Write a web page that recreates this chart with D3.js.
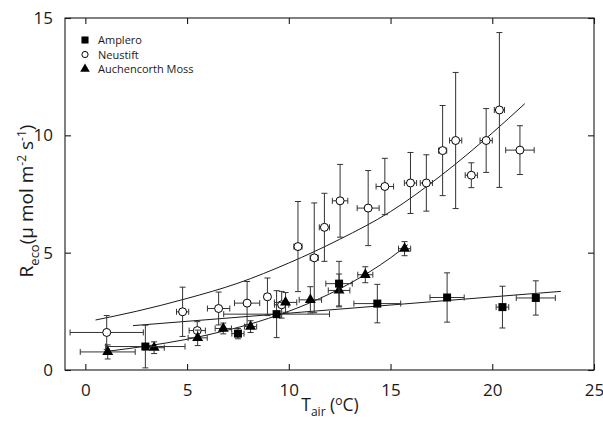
<!DOCTYPE html>
<html>
<head>
<meta charset="utf-8">
<script src="https://cdn.jsdelivr.net/npm/d3@7"></script>
<style>
  html, body { margin: 0; padding: 0; background: #fff; }
  svg { display: block; }
  text { font-family: "Open Sans", "DejaVu Sans", sans-serif; fill: #1a1a1a; }
</style>
</head>
<body>
<svg id="chart" width="603" height="421"></svg>
<script>
// ---------- data ----------
const xTicks = [0, 5, 10, 15, 20, 25];
const yTicks = [0, 5, 10, 15];
const seriesNames = ["Amplero", "Neustift", "Auchencorth Moss"];

// Amplero (filled squares)
const amplX    = [2.95, 7.5, 9.4, 12.47, 14.35, 17.78, 20.5, 22.14];
const amplY    = [1.0, 1.55, 2.38, 3.68, 2.83, 3.09, 2.68, 3.07];
const amplXErr = [1.95, 0.3, 2.6, 0.65, 1.15, 0.84, 0.31, 0.96];
const amplYErr = [0.91, 0.22, 1.0, 0.95, 0.82, 1.05, 0.89, 0.73];

// Neustift (open circles)
const neuX    = [1.05, 4.78, 5.5, 6.55, 7.95, 8.95, 9.65, 10.45, 11.25, 11.75, 12.52, 13.9, 14.72, 15.98, 16.76, 17.56, 18.2, 18.97, 19.7, 20.35, 21.36];
const neuY    = [1.6, 2.48, 1.68, 2.62, 2.85, 3.12, 2.78, 5.26, 4.78, 6.08, 7.21, 6.9, 7.82, 7.97, 7.97, 9.35, 9.78, 8.3, 9.78, 11.08, 9.37];
const neuXErr = [1.8, 0.3, 0.4, 0.55, 0.62, 0.15, 0.35, 0.2, 0.2, 0.25, 0.38, 0.54, 0.43, 0.3, 0.3, 0.2, 0.3, 0.3, 0.3, 0.25, 0.7];
const neuYErr = [0.72, 1.05, 0.38, 0.7, 0.92, 0.8, 0.57, 1.92, 2.34, 1.45, 1.55, 1.6, 1.2, 1.3, 1.2, 1.92, 2.9, 0.53, 1.36, 3.3, 1.04];

// Auchencorth Moss (filled triangles)
const aucX    = [1.1, 3.38, 5.52, 6.78, 8.12, 9.84, 11.06, 12.47, 13.76, 15.69];
const aucY    = [0.77, 0.95, 1.37, 1.77, 1.85, 2.88, 2.99, 3.39, 4.06, 5.17];
const aucXErr = [1.35, 0.5, 0.47, 0.4, 0.3, 0.55, 0.55, 0.53, 0.37, 0.3];
const aucYErr = [0.3, 0.25, 0.33, 0.23, 0.25, 0.42, 0.56, 0.7, 0.34, 0.3];

// fitted curves
const amplFitX = [2.34, 23.37];
const amplFitY = [1.89, 3.35];
const neuFitX  = [0.5, 2.5, 5, 7.5, 10, 12.5, 15, 17.5, 20, 21.6];
const neuFitY  = [2.13, 2.5, 3.05, 3.7, 4.56, 5.57, 6.75, 8.3, 10.1, 11.35];
const aucFitX  = [1.2, 3, 5, 7, 9, 11, 13, 15, 15.85];
const aucFitY  = [0.81, 1.02, 1.31, 1.7, 2.2, 2.85, 3.69, 4.78, 5.34];

// ---------- layout ----------
const svg = d3.select("#chart");
const L = 65, R = 594, T = 18, B = 370;
const x = d3.scaleLinear().domain([-1, 25]).range([L, R]);
const y = d3.scaleLinear().domain([0, 15]).range([B, T]);
const ink = "#1a1a1a";
const errInk = "#333";

// frame
svg.append("rect").attr("x", L).attr("y", T).attr("width", R - L).attr("height", B - T)
  .attr("fill", "none").attr("stroke", ink).attr("stroke-width", 1.1);

// axes with inward ticks
const tl = 6;
const gxB = svg.append("g").attr("transform", `translate(0,${B})`)
  .call(d3.axisBottom(x).tickValues(xTicks).tickSizeInner(-tl).tickSizeOuter(0).tickPadding(tl + 8));
const gxT = svg.append("g").attr("transform", `translate(0,${T})`)
  .call(d3.axisTop(x).tickValues(xTicks).tickSizeInner(-tl).tickSizeOuter(0).tickFormat(""));
const gyL = svg.append("g").attr("transform", `translate(${L},0)`)
  .call(d3.axisLeft(y).tickValues(yTicks).tickSizeInner(-tl).tickSizeOuter(0).tickPadding(tl + 6));
const gyR = svg.append("g").attr("transform", `translate(${R},0)`)
  .call(d3.axisRight(y).tickValues(yTicks).tickSizeInner(-tl).tickSizeOuter(0).tickFormat(""));
[gxB, gxT, gyL, gyR].forEach(g => {
  g.select(".domain").remove();
  g.selectAll(".tick line").attr("stroke", ink).attr("stroke-width", 1.1);
  g.selectAll(".tick text").style("font-size", "17px").attr("fill", ink)
    .style("font-family", '"Open Sans", sans-serif');
});

// axis titles
const xt = svg.append("text").attr("x", 330).attr("y", 411).attr("text-anchor", "middle")
  .style("font-size", "17.5px");
xt.append("tspan").text("T");
xt.append("tspan").attr("dy", 5).style("font-size", "12px").text("air");
xt.append("tspan").attr("dy", -5).text(" (");
xt.append("tspan").attr("dy", -6).style("font-size", "12px").text("o");
xt.append("tspan").attr("dy", 6).text("C)");

const yt = svg.append("text").attr("transform", "translate(33,201) rotate(-90)")
  .attr("text-anchor", "middle").style("font-size", "19px");
yt.append("tspan").text("R");
yt.append("tspan").attr("dy", 6).style("font-size", "13px").text("eco");
yt.append("tspan").attr("dy", -6).text("(µ mol m");
yt.append("tspan").attr("dy", -7).style("font-size", "12px").text("-2");
yt.append("tspan").attr("dy", 7).text(" s");
yt.append("tspan").attr("dy", -7).style("font-size", "12px").text("-1");
yt.append("tspan").attr("dy", 7).text(")");

// fit lines
const line = d3.line().x(d => x(d[0])).y(d => y(d[1])).curve(d3.curveMonotoneX);
[[amplFitX, amplFitY], [neuFitX, neuFitY], [aucFitX, aucFitY]].forEach(([fx, fy]) => {
  svg.append("path").datum(fx.map((v, i) => [v, fy[i]]))
    .attr("d", line).attr("fill", "none").attr("stroke", ink).attr("stroke-width", 1);
});

// error bars + markers
const cap = 3;
function drawSeries(xs, ys, xe, ye, shape) {
  const data = xs.map((v, i) => ({ x: v, y: ys[i], xe: xe[i], ye: ye[i] }));
  const g = svg.append("g");
  const eb = g.selectAll("g.eb").data(data).join("g").attr("stroke", errInk).attr("stroke-width", 1);
  eb.append("line").attr("x1", d => x(d.x)).attr("x2", d => x(d.x))
    .attr("y1", d => y(d.y - d.ye)).attr("y2", d => y(d.y + d.ye));
  eb.append("line").attr("x1", d => x(d.x) - cap).attr("x2", d => x(d.x) + cap)
    .attr("y1", d => y(d.y + d.ye)).attr("y2", d => y(d.y + d.ye));
  eb.append("line").attr("x1", d => x(d.x) - cap).attr("x2", d => x(d.x) + cap)
    .attr("y1", d => y(d.y - d.ye)).attr("y2", d => y(d.y - d.ye));
  eb.append("line").attr("y1", d => y(d.y)).attr("y2", d => y(d.y))
    .attr("x1", d => x(d.x - d.xe)).attr("x2", d => x(d.x + d.xe));
  eb.append("line").attr("y1", d => y(d.y) - cap).attr("y2", d => y(d.y) + cap)
    .attr("x1", d => x(d.x - d.xe)).attr("x2", d => x(d.x - d.xe));
  eb.append("line").attr("y1", d => y(d.y) - cap).attr("y2", d => y(d.y) + cap)
    .attr("x1", d => x(d.x + d.xe)).attr("x2", d => x(d.x + d.xe));
  g.selectAll("path.m").data(data).join("path")
    .attr("transform", d => `translate(${x(d.x)},${y(d.y)})`)
    .attr("d", shape.path)
    .attr("fill", shape.fill).attr("stroke", "#000").attr("stroke-width", shape.sw);
}
const squareShape = { path: d3.symbol(d3.symbolSquare, 64)(), fill: "#000", sw: 0 };
const circleShape = { path: d3.symbol(d3.symbolCircle, 50)(), fill: "#fff", sw: 1 };
const triShape = { path: d3.symbol(d3.symbolTriangle, 52)(), fill: "#000", sw: 0 };

drawSeries(neuX, neuY, neuXErr, neuYErr, circleShape);
drawSeries(aucX, aucY, aucXErr, aucYErr, triShape);
drawSeries(amplX, amplY, amplXErr, amplYErr, squareShape);

// legend
const legShapes = [
  { path: d3.symbol(d3.symbolSquare, 50)(), fill: "#000", sw: 0 },
  { path: d3.symbol(d3.symbolCircle, 30)(), fill: "#fff", sw: 1 },
  { path: d3.symbol(d3.symbolTriangle, 40)(), fill: "#000", sw: 0 }
];
const leg = svg.append("g");
seriesNames.forEach((name, i) => {
  const cy = 40 + i * 14.5;
  leg.append("path").attr("transform", `translate(85,${cy})`).attr("d", legShapes[i].path)
    .attr("fill", legShapes[i].fill).attr("stroke", "#000").attr("stroke-width", legShapes[i].sw);
  leg.append("text").attr("x", 98).attr("y", cy + 4).style("font-size", "11px").text(name);
});
</script>
</body>
</html>
